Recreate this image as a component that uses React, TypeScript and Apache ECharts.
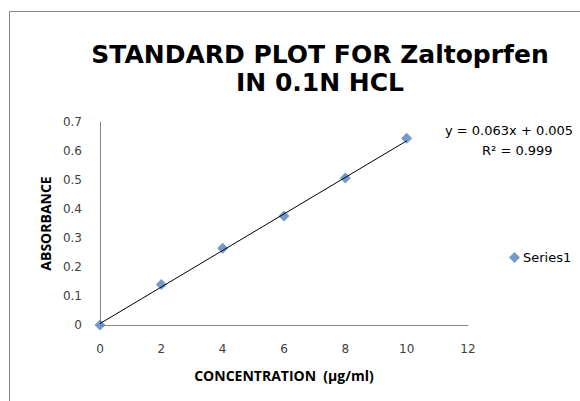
import React, { useEffect, useRef } from "react";
import * as echarts from "echarts";

const concentration = [0, 2, 4, 6, 8, 10];
const absorbance = [0, 0.14, 0.265, 0.376, 0.507, 0.644];
const slope = 0.063;
const intercept = 0.005;
const trendX = [0, 10];
const equationText = "y = 0.063x + 0.005";
const r2Text = "R² = 0.999";
const seriesName = "Series1";
const titleLines = ["STANDARD PLOT FOR Zaltoprfen", "IN 0.1N HCL"];

export default function App() {
  const ref = useRef<HTMLDivElement>(null);
  useEffect(() => {
    const chart = echarts.init(ref.current!, undefined, { renderer: "svg" });
    const points = concentration.map((x, i) => [x, absorbance[i]]);
    const trend = trendX.map((x) => [x, slope * x + intercept]);
    chart.setOption({
      animation: false,
      backgroundColor: "#fff",
      title: {
        text: titleLines.join("\n"),
        left: 315,
        top: 35,
        textAlign: "center",
        textStyle: {
          fontFamily: "DejaVu Sans",
          fontWeight: "bold",
          fontSize: 25,
          color: "#000",
          lineHeight: 28,
        },
      },
      grid: { left: 100, right: 112, top: 122, bottom: 76 },
      xAxis: {
        type: "value",
        min: 0,
        max: 12,
        interval: 2,
        name: "CONCENTRATION  (µg/ml)",
        nameLocation: "middle",
        nameGap: 43,
        nameTextStyle: { fontFamily: "Open Sans", fontWeight: "bold", fontSize: 14, color: "#000" },
        axisLine: { lineStyle: { color: "#868686" } },
        axisTick: { show: false },
        splitLine: { show: false },
        axisLabel: { fontFamily: "DejaVu Sans", fontSize: 12, color: "#404040", margin: 18 },
      },
      yAxis: {
        type: "value",
        min: 0,
        max: 0.7,
        interval: 0.1,
        name: "ABSORBANCE",
        nameLocation: "middle",
        nameGap: 47,
        nameTextStyle: { fontFamily: "Open Sans", fontWeight: "bold", fontSize: 14, color: "#000" },
        axisLine: { show: true, lineStyle: { color: "#868686" } },
        axisTick: { show: false },
        splitLine: { show: false },
        axisLabel: { fontFamily: "DejaVu Sans", fontSize: 12, color: "#404040", margin: 18 },
      },
      legend: {
        data: [seriesName],
        left: 504,
        top: 246,
        itemWidth: 11,
        itemHeight: 11,
        itemGap: 4,
        textStyle: { fontFamily: "DejaVu Sans", fontSize: 13, color: "#000", padding: [0, 0, 0, -2] },
      },
      graphic: [
        {
          type: "rect",
          shape: { x: 9.5, y: 11.5, width: 700, height: 500 },
          style: { fill: "none", stroke: "#868686", lineWidth: 1 },
          silent: true,
        },
        {
          type: "text",
          left: 445,
          top: 124,
          style: { text: equationText, font: "13px 'DejaVu Sans'", fill: "#000" },
        },
        {
          type: "text",
          left: 482,
          top: 144,
          style: { text: r2Text, font: "13px 'DejaVu Sans'", fill: "#000" },
        },
      ],
      series: [
        {
          name: "Trend",
          type: "line",
          data: trend,
          showSymbol: false,
          symbol: "none",
          lineStyle: { color: "#000", width: 1 },
          z: 3,
        },
        {
          name: seriesName,
          type: "scatter",
          data: points,
          symbol: "diamond",
          symbolSize: 11,
          itemStyle: { color: "#4F81BD" },
          z: 2,
        },
      ],
    });
    return () => chart.dispose();
  }, []);
  return (
    <div
      ref={ref}
      style={{ position: "fixed", left: 0, top: 0, width: 580, height: 401 }}
    />
  );
}
